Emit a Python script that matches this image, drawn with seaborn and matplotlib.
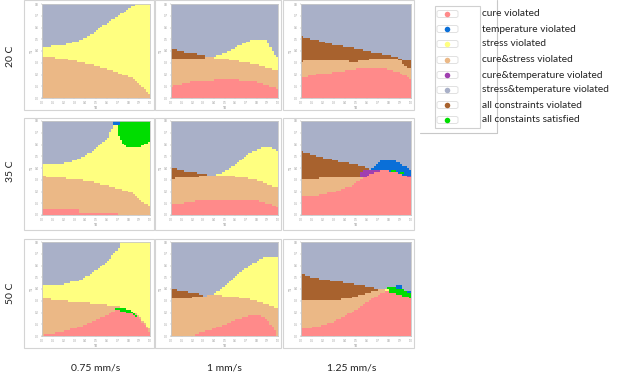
import numpy as np
import seaborn as sns
import matplotlib
matplotlib.use("Agg")
import matplotlib.pyplot as plt
from matplotlib.colors import ListedColormap
from matplotlib.patches import Rectangle, FancyBboxPatch
from matplotlib.lines import Line2D

# ---------------- data ----------------
categories = ["cure violated", "temperature violated", "stress violated",
              "cure&stress violated", "cure&temperature violated",
              "stress&temperature violated", "all constraints violated",
              "all constaints satisfied"]
cat_colors = ["#FF8A8A", "#0A6FD8", "#FFFF80", "#EBB886",
              "#A040B0", "#A9B0C8", "#A8622E", "#00DD00"]
PINK, BLUE, YELLOW, TAN, PURPLE, GREY, BROWN, GREEN = range(8)

row_labels = ["20 C", "35 C", "50 C"]
col_labels = ["0.75 mm/s", "1 mm/s", "1.25 mm/s"]
x_tick_labels = ["0.0", "0.1", "0.2", "0.3", "0.4", "0.5", "0.6", "0.7", "0.8", "0.9", "1.0"]
y_tick_labels = ["0.0", "0.1", "0.2", "0.3", "0.4", "0.5", "0.6", "0.7", "0.8"]

# layers: (category, x, lower, upper) painted in order over a grey background
p1_yellow_x = [0, 0.23, 0.38, 0.47, 0.53, 0.62, 0.74, 0.83, 0.89, 1.0]
p1_yellow_hi = [0.537, 0.572, 0.625, 0.689, 0.742, 0.813, 0.90, 0.972, 1.01, 1.01]
p1_tan_x = [0, 0.23, 0.53, 0.68, 0.83, 0.92, 0.97, 1.0]
p1_tan_hi = [0.449, 0.413, 0.336, 0.283, 0.212, 0.141, 0.07, 0.02]

p2_yellow_x = [0.38, 0.425, 0.52, 0.61, 0.70, 0.80, 0.88, 0.925, 0.97, 1.0]
p2_yellow_hi = [0.44, 0.452, 0.488, 0.54, 0.594, 0.629, 0.629, 0.558, 0.47, 0.435]
p2_brown_x = [0, 0.05, 0.08, 0.14, 0.25, 0.38]
p2_brown_hi = [0.516, 0.516, 0.505, 0.487, 0.47, 0.435]
p2_tan_x = [0, 0.27, 0.36, 0.52, 0.70, 0.83, 0.95, 1.0]
p2_tan_hi = [0.41, 0.424, 0.435, 0.413, 0.38, 0.346, 0.31, 0.293]
p2_pink_x = [0, 0.11, 0.175, 0.38, 0.53, 0.67, 0.80, 0.91, 1.0]
p2_pink_hi = [0.124, 0.152, 0.17, 0.187, 0.205, 0.187, 0.17, 0.134, 0.1]

p3_brown_x = [0, 0.067, 0.16, 0.25, 0.37, 0.5, 0.59, 0.68, 0.77, 0.86, 0.94, 1.0]
p3_brown_hi = [0.658, 0.634, 0.613, 0.577, 0.553, 0.528, 0.5, 0.482, 0.465, 0.437, 0.401, 0.394]
p3_tan_x = [0, 0.067, 0.22, 0.37, 0.5, 0.68, 0.86, 0.91, 0.95, 1.0]
p3_tan_hi = [0.387, 0.394, 0.401, 0.394, 0.387, 0.423, 0.423, 0.394, 0.342, 0.306]
p3_pink_x = [0, 0.067, 0.16, 0.28, 0.40, 0.56, 0.68, 0.80, 0.89, 0.97, 1.0]
p3_pink_hi = [0.211, 0.236, 0.254, 0.271, 0.289, 0.324, 0.324, 0.306, 0.271, 0.218, 0.2]

p4_yellow_x = [0, 0.23, 0.355, 0.45, 0.54, 0.61, 0.65, 0.686, 1.0]
p4_yellow_hi = [0.529, 0.554, 0.6, 0.67, 0.76, 0.83, 0.92, 1.01, 1.01]
p4_green_x = [0.686, 0.70, 0.72, 0.76, 0.80, 0.86, 0.92, 0.96, 1.0]
p4_green_lo = [0.99, 0.87, 0.81, 0.75, 0.72, 0.714, 0.73, 0.76, 0.79]
p4_green_hi = [1.01] * 9
p4_blue_x = [0.665, 0.71]
p4_blue_lo = [0.955, 0.955]
p4_blue_hi = [1.01, 1.01]
p4_tan_x = [0, 0.16, 0.31, 0.48, 0.64, 0.80, 0.89, 0.95, 1.0]
p4_tan_hi = [0.414, 0.393, 0.386, 0.35, 0.304, 0.25, 0.19, 0.129, 0.082]
p4_pink_x = [0, 0.34, 0.3401, 0.69]
p4_pink_hi = [0.057, 0.057, 0.021, 0.021]

p5_yellow_x = [0.38, 0.45, 0.53, 0.60, 0.67, 0.74, 0.80, 0.86, 0.93, 1.0]
p5_yellow_hi = [0.423, 0.437, 0.482, 0.535, 0.605, 0.658, 0.694, 0.718, 0.718, 0.676]
p5_brown_x = [0, 0.05, 0.065, 0.14, 0.25, 0.38]
p5_brown_hi = [0.5, 0.5, 0.482, 0.465, 0.447, 0.423]
p5_tan_x = [0, 0.11, 0.27, 0.38, 0.58, 0.74, 0.86, 0.95, 1.0]
p5_tan_hi = [0.387, 0.394, 0.412, 0.423, 0.412, 0.387, 0.352, 0.306, 0.289]
p5_pink_x = [0, 0.11, 0.25, 0.42, 0.55, 0.70, 0.80, 0.89, 1.0]
p5_pink_hi = [0.113, 0.13, 0.155, 0.155, 0.169, 0.165, 0.155, 0.13, 0.077]

p6_blue_x = [0.64, 0.68, 0.72, 0.80, 0.88, 0.94, 0.98, 1.0]
p6_blue_hi = [0.49, 0.54, 0.574, 0.59, 0.567, 0.52, 0.486, 0.468]
p6_brown_x = [0, 0.05, 0.10, 0.17, 0.25, 0.33, 0.40, 0.48, 0.55, 0.62]
p6_brown_hi = [0.68, 0.663, 0.638, 0.62, 0.60, 0.574, 0.557, 0.539, 0.521, 0.495]
p6_purple_x = [0.55, 0.62, 0.68, 0.74]
p6_purple_hi = [0.47, 0.49, 0.49, 0.49]
p6_purple2_x = [0.96, 1.0]
p6_purple2_hi = [0.42, 0.42]
p6_tan_x = [0, 0.15, 0.30, 0.45, 0.56]
p6_tan_hi = [0.39, 0.39, 0.397, 0.404, 0.404]
p6_pink_x = [0, 0.15, 0.30, 0.45, 0.55, 0.60, 0.66, 0.75, 0.82, 0.90, 0.96, 1.0]
p6_pink_hi = [0.191, 0.209, 0.245, 0.309, 0.38, 0.415, 0.457, 0.475, 0.468, 0.44, 0.41, 0.387]
p6_green_x = [0.82, 0.86]
p6_green_lo = [0.46, 0.46]
p6_green_hi = [0.49, 0.49]
p6_green2_x = [0.91, 0.94]
p6_green2_lo = [0.435, 0.435]
p6_green2_hi = [0.462, 0.462]

p7_yellow_x = [0, 0.2, 0.35, 0.45, 0.55, 0.63, 0.70, 0.73, 1.0]
p7_yellow_hi = [0.543, 0.55, 0.596, 0.657, 0.74, 0.83, 0.918, 1.01, 1.01]
p7_tan_x = [0, 0.2, 0.4, 0.55, 0.68, 0.75, 0.82, 0.88, 0.93, 0.96, 1.0]
p7_tan_hi = [0.4, 0.375, 0.354, 0.336, 0.318, 0.30, 0.27, 0.23, 0.168, 0.12, 0.06]
p7_green_x = [0.69, 0.75, 0.80, 0.85, 0.88, 0.895]
p7_green_hi = [0.31, 0.304, 0.282, 0.25, 0.22, 0.19]
p7_pink_x = [0, 0.1, 0.2, 0.3, 0.4, 0.5, 0.6, 0.66, 0.70, 0.75, 0.80, 0.85, 0.90, 0.95, 0.98, 1.0]
p7_pink_hi = [0.007, 0.025, 0.05, 0.079, 0.12, 0.168, 0.22, 0.257, 0.275, 0.264, 0.246, 0.22, 0.186, 0.12, 0.06, 0.007]

p8_yellow_x = [0.38, 0.45, 0.52, 0.60, 0.68, 0.75, 0.82, 0.88, 1.0]
p8_yellow_hi = [0.443, 0.489, 0.55, 0.632, 0.704, 0.757, 0.811, 0.846, 0.846]
p8_brown_x = [0, 0.05, 0.06, 0.15, 0.30]
p8_brown_hi = [0.507, 0.507, 0.482, 0.471, 0.443]
p8_tan_x = [0, 0.15, 0.3, 0.4, 0.5, 0.6, 0.7, 0.8, 0.9, 0.97, 1.0]
p8_tan_hi = [0.393, 0.4, 0.425, 0.436, 0.429, 0.418, 0.4, 0.371, 0.336, 0.3, 0.286]
p8_pink_x = [0.2, 0.3, 0.4, 0.5, 0.6, 0.7, 0.78, 0.85, 0.9, 0.95, 0.99]
p8_pink_hi = [0.0, 0.043, 0.079, 0.121, 0.168, 0.204, 0.221, 0.21, 0.168, 0.096, 0.007]

p9_green_x = [0.78, 0.85, 0.90, 0.95, 1.0]
p9_green_hi = [0.514, 0.522, 0.511, 0.486, 0.468]
p9_blue_x = [0.86, 0.91]
p9_blue_lo = [0.51, 0.51]
p9_blue_hi = [0.535, 0.535]
p9_blue2_x = [0.97, 1.0]
p9_blue2_lo = [0.462, 0.462]
p9_blue2_hi = [0.485, 0.485]
p9_brown_x = [0, 0.05, 0.1, 0.2, 0.3, 0.4, 0.5, 0.58, 0.65, 0.73]
p9_brown_hi = [0.665, 0.647, 0.622, 0.604, 0.583, 0.568, 0.547, 0.529, 0.511, 0.504]
p9_yellow_x = [0.73, 0.79]
p9_yellow_lo = [0.47, 0.47]
p9_yellow_hi = [0.5, 0.5]
p9_tan_x = [0, 0.1, 0.2, 0.35, 0.45, 0.55, 0.65, 0.7, 0.76]
p9_tan_hi = [0.378, 0.378, 0.385, 0.388, 0.403, 0.439, 0.475, 0.493, 0.5]
p9_pink_x = [0, 0.1, 0.2, 0.3, 0.4, 0.5, 0.6, 0.7, 0.76, 0.82, 0.9, 0.96, 1.0]
p9_pink_hi = [0.079, 0.09, 0.115, 0.151, 0.216, 0.28, 0.36, 0.432, 0.475, 0.468, 0.439, 0.414, 0.403]

panels = [
    [(YELLOW, p1_yellow_x, None, p1_yellow_hi), (TAN, p1_tan_x, None, p1_tan_hi)],
    [(YELLOW, p2_yellow_x, None, p2_yellow_hi), (BROWN, p2_brown_x, None, p2_brown_hi),
     (TAN, p2_tan_x, None, p2_tan_hi), (PINK, p2_pink_x, None, p2_pink_hi)],
    [(BROWN, p3_brown_x, None, p3_brown_hi), (TAN, p3_tan_x, None, p3_tan_hi),
     (PINK, p3_pink_x, None, p3_pink_hi)],
    [(YELLOW, p4_yellow_x, None, p4_yellow_hi), (GREEN, p4_green_x, p4_green_lo, p4_green_hi),
     (BLUE, p4_blue_x, p4_blue_lo, p4_blue_hi), (TAN, p4_tan_x, None, p4_tan_hi),
     (PINK, p4_pink_x, None, p4_pink_hi)],
    [(YELLOW, p5_yellow_x, None, p5_yellow_hi), (BROWN, p5_brown_x, None, p5_brown_hi),
     (TAN, p5_tan_x, None, p5_tan_hi), (PINK, p5_pink_x, None, p5_pink_hi)],
    [(BLUE, p6_blue_x, None, p6_blue_hi), (BROWN, p6_brown_x, None, p6_brown_hi),
     (PURPLE, p6_purple_x, None, p6_purple_hi), (PURPLE, p6_purple2_x, None, p6_purple2_hi),
     (TAN, p6_tan_x, None, p6_tan_hi), (PINK, p6_pink_x, None, p6_pink_hi),
     (GREEN, p6_green_x, p6_green_lo, p6_green_hi), (GREEN, p6_green2_x, p6_green2_lo, p6_green2_hi)],
    [(YELLOW, p7_yellow_x, None, p7_yellow_hi), (TAN, p7_tan_x, None, p7_tan_hi),
     (GREEN, p7_green_x, None, p7_green_hi), (PINK, p7_pink_x, None, p7_pink_hi)],
    [(YELLOW, p8_yellow_x, None, p8_yellow_hi), (BROWN, p8_brown_x, None, p8_brown_hi),
     (TAN, p8_tan_x, None, p8_tan_hi), (PINK, p8_pink_x, None, p8_pink_hi)],
    [(GREEN, p9_green_x, None, p9_green_hi), (BLUE, p9_blue_x, p9_blue_lo, p9_blue_hi),
     (BLUE, p9_blue2_x, p9_blue2_lo, p9_blue2_hi), (BROWN, p9_brown_x, None, p9_brown_hi),
     (YELLOW, p9_yellow_x, p9_yellow_lo, p9_yellow_hi), (TAN, p9_tan_x, None, p9_tan_hi),
     (PINK, p9_pink_x, None, p9_pink_hi)],
]

NX, NY = 50, 50


def make_grid(layers):
    xc = (np.arange(NX) + 0.5) / NX
    yc = (np.arange(NY) + 0.5) / NY
    g = np.full((NY, NX), float(GREY))
    for cat, xs, lo, hi in layers:
        xs = np.asarray(xs, float)
        inx = (xc >= xs[0]) & (xc <= xs[-1])
        lo_i = np.zeros(NX) if lo is None else np.interp(xc, xs, lo)
        hi_i = np.interp(xc, xs, hi)
        m = inx[None, :] & (yc[:, None] >= lo_i[None, :]) & (yc[:, None] < hi_i[None, :])
        g[m] = cat
    return g[::-1]


# ---------------- drawing ----------------
sns.set_theme(style="white")
plt.rcParams['font.family'] = ['Lato', 'DejaVu Sans']

W, H = 620, 381
fig = plt.figure(figsize=(W / 100, H / 100), dpi=100)
fig.patch.set_facecolor("white")


def fbox(x0, y0, x1, y1):
    return [x0 / W, 1 - y1 / H, (x1 - x0) / W, (y1 - y0) / H]


col_ax = [(42, 150), (171, 278), (301, 411)]
row_ax = [(4, 98), (121, 215), (242, 336)]
col_fr = [(24, 154), (155, 281), (283, 414)]
row_fr = [(0, 110), (118, 230), (239, 348)]

cmap = ListedColormap(cat_colors)

for r in range(3):
    for c in range(3):
        fx0, fx1 = col_fr[c]
        fy0, fy1 = row_fr[r]
        b = fbox(fx0, fy0, fx1, fy1)
        fig.add_artist(Rectangle((b[0], b[1]), b[2], b[3], transform=fig.transFigure,
                                 fill=False, edgecolor="#d4d4d4", lw=0.8))
        x0, x1 = col_ax[c]
        y0, y1 = row_ax[r]
        ax = fig.add_axes(fbox(x0, y0, x1, y1))
        grid = make_grid(panels[r * 3 + c])
        sns.heatmap(grid, cmap=cmap, vmin=-0.5, vmax=7.5, cbar=False, ax=ax,
                    xticklabels=False, yticklabels=False)
        ax.set_xticks(np.linspace(0, NX, len(x_tick_labels)))
        ax.set_xticklabels(x_tick_labels, fontsize=2, color="#888888", rotation=0)
        ax.set_yticks(np.linspace(NY, 0, len(y_tick_labels)))
        ax.set_yticklabels(y_tick_labels, fontsize=2, color="#888888")
        ax.tick_params(length=1, width=0.3, pad=1, colors="#999999", left=True, bottom=True)
        ax.set_xlabel("T0", fontsize=2.5, color="#888888", labelpad=1)
        ax.set_ylabel("T1", fontsize=2.5, color="#888888", labelpad=1)
        for s in ax.spines.values():
            s.set_visible(True)
            s.set_color("#c8c8c8")
            s.set_linewidth(0.6)

row_cy = [56, 171, 293]
for lab, cy in zip(row_labels, row_cy):
    fig.text(10.5 / W, 1 - cy / H, lab, rotation=90, ha="center", va="center",
             fontsize=7.5, color="#222222")

col_cx = [96, 224, 352]
for lab, cx in zip(col_labels, col_cx):
    fig.text(cx / W, 1 - 368 / H, lab, ha="center", va="center", fontsize=7.5, color="#222222")

# legend
fig.add_artist(Line2D([497 / W, 497 / W], [1.0, 1 - 133 / H], transform=fig.transFigure,
                      color="#c8c8c8", lw=0.8))
fig.add_artist(Line2D([420 / W, 497 / W], [1 - 133 / H, 1 - 133 / H], transform=fig.transFigure,
                      color="#c8c8c8", lw=0.8))
b = fbox(435, 6, 480, 128)
fig.add_artist(Rectangle((b[0], b[1]), b[2], b[3], transform=fig.transFigure,
                         fill=False, edgecolor="#d0d0d0", lw=0.8))
leg_y = [14, 29, 44, 60, 75, 90, 105, 120]
for lab, col, yy in zip(categories, cat_colors, leg_y):
    bb = fbox(437, yy - 3.5, 458, yy + 3.5)
    fig.add_artist(FancyBboxPatch((bb[0], bb[1]), bb[2], bb[3], transform=fig.transFigure,
                                  boxstyle="round,pad=0,rounding_size=0.004",
                                  facecolor="white", edgecolor="#dcdcdc", lw=0.6))
    fig.add_artist(Line2D([447 / W], [1 - yy / H], transform=fig.transFigure, marker="o",
                          markersize=4, color=col, markeredgewidth=0, linestyle="none"))
    fig.text(482 / W, 1 - yy / H, lab, ha="left", va="center", fontsize=7.3, color="#222222")

fig.savefig("out.png", dpi=100, facecolor="white")
